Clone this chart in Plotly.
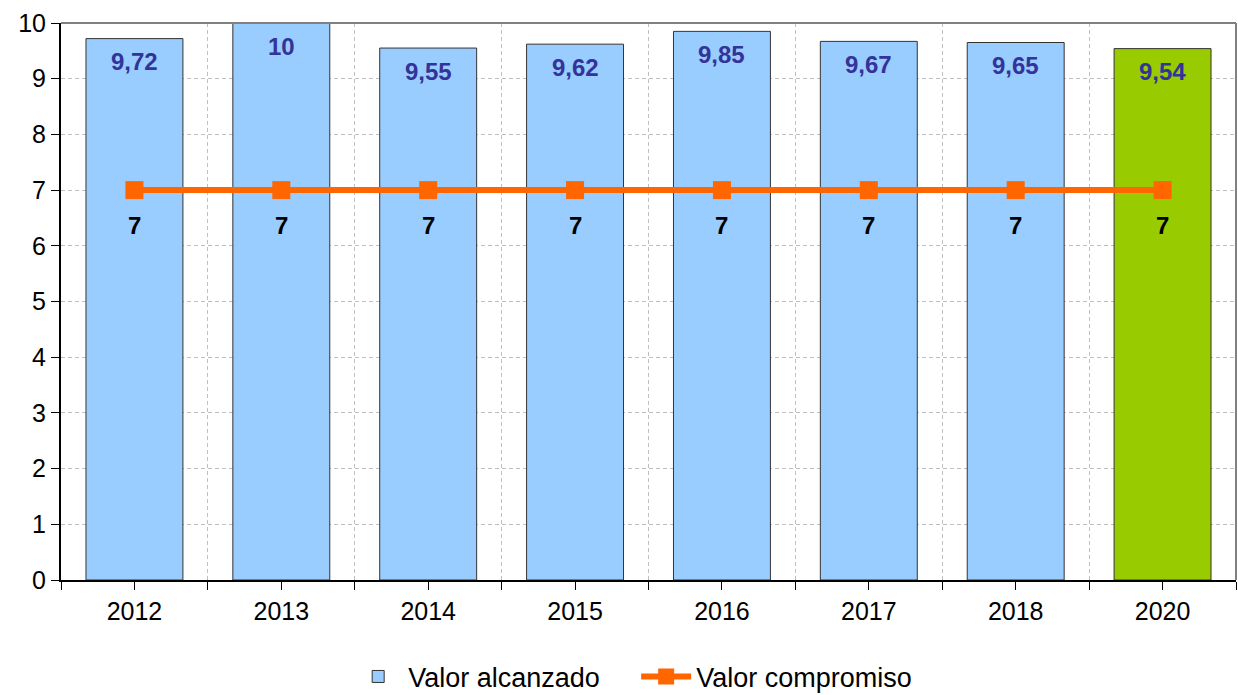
import plotly.graph_objects as go

years = ["2012", "2013", "2014", "2015", "2016", "2017", "2018", "2020"]
alcanzado = [9.72, 10, 9.55, 9.62, 9.85, 9.67, 9.65, 9.54]
compromiso = [7, 7, 7, 7, 7, 7, 7, 7]
bar_colors = ["#99CCFF"] * 7 + ["#99CC00"]

x = list(range(len(years)))
fmt = lambda v: f"{v:g}".replace(".", ",")
FONT = "Liberation Sans, Arial, sans-serif"

fig = go.Figure()
fig.add_trace(go.Bar(
    x=x, y=alcanzado, name="Valor alcanzado",
    marker=dict(color=bar_colors, line=dict(color="#333333", width=1)),
))
fig.add_trace(go.Scatter(
    x=x, y=compromiso, name="Valor compromiso", mode="lines+markers",
    line=dict(color="#FF6600", width=6),
    marker=dict(symbol="square", size=18, color="#FF6600"),
))
for xi, v in zip(x, alcanzado):
    fig.add_annotation(x=xi, y=v, text=f"<b>{fmt(v)}</b>", showarrow=False,
                       yshift=-23, yanchor="middle",
                       font=dict(family=FONT, size=24, color="#333399"))
for xi, v in zip(x, compromiso):
    fig.add_annotation(x=xi, y=v, text=f"<b>{fmt(v)}</b>", showarrow=False,
                       yshift=-35, yanchor="middle",
                       font=dict(family=FONT, size=24, color="black"))

fig.update_layout(
    width=1238, height=695,
    margin=dict(l=61, r=2, t=23, b=115, autoexpand=False),
    plot_bgcolor="white", paper_bgcolor="white",
    bargap=0.34,
    font=dict(family=FONT, size=25, color="black"),
    showlegend=True,
    legend=dict(orientation="h", x=0.4895, xanchor="center", y=-0.174, yanchor="middle",
                font=dict(size=27), itemwidth=50, entrywidth=223, traceorder="normal"),
    xaxis=dict(
        range=[-0.5, 7.5], tickvals=x, ticktext=years, showgrid=False,
        ticks="outside", ticklen=8, tickcolor="black", tickwidth=1,
        showline=True, linecolor="black", linewidth=2, mirror=False,
        minor=dict(tickvals=[i + 0.5 for i in range(-1, 8)], showgrid=True,
                   gridcolor="#C0C0C0", griddash="4px,3px", gridwidth=1,
                   ticks="outside", ticklen=8, tickcolor="black"),
        zeroline=False, automargin=False,
    ),
    yaxis=dict(
        range=[0, 10], dtick=1, showgrid=True, gridcolor="#C0C0C0", griddash="4px,3px",
        ticks="outside", ticklen=8, tickcolor="black",
        showline=True, linecolor="black", linewidth=2, zeroline=False, automargin=False,
    ),
)
fig.add_shape(type="line", xref="paper", yref="paper", x0=0, x1=1, y0=1, y1=1,
              line=dict(color="#808080", width=2), layer="above")
fig.add_shape(type="line", xref="paper", yref="paper", x0=1, x1=1, y0=0, y1=1,
              line=dict(color="#808080", width=2), layer="above")
fig.write_html("out.html", config={"displayModeBar": False},
               post_script="document.body.style.margin='0px';")
